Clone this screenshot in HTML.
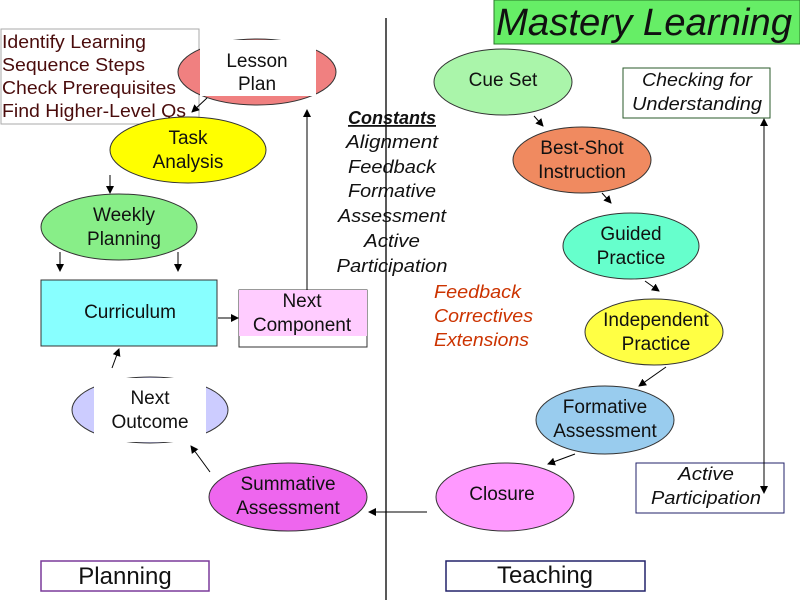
<!DOCTYPE html>
<html><head><meta charset="utf-8"><style>
html,body{margin:0;padding:0;background:#fff;}
svg{display:block;}
text{font-family:"Liberation Sans",Arial,sans-serif;}
</style></head><body>
<svg width="800" height="600" viewBox="0 0 800 600" xmlns="http://www.w3.org/2000/svg">
<defs>
<marker id="a" markerWidth="8" markerHeight="8" refX="7" refY="4" orient="auto" markerUnits="userSpaceOnUse"><path d="M0,0 L8,4 L0,8 z" fill="#000"/></marker>
</defs>
<rect width="800" height="600" fill="#fff"/>
<rect x="494" y="0" width="306" height="44" fill="#66ee66" stroke="#2a7a2a"/>
<text x="496" y="35" font-size="38" font-style="italic" fill="#111" textLength="296" lengthAdjust="spacingAndGlyphs">Mastery Learning</text>
<line x1="386" y1="18" x2="386" y2="600" stroke="#222" stroke-width="1.5"/>
<rect x="1" y="29" width="198" height="95" fill="#fff" stroke="#aaa"/>
<g font-size="18" fill="#4a0c0c">
<text x="2" y="48" textLength="144" lengthAdjust="spacingAndGlyphs">Identify Learning</text>
<text x="2" y="71" textLength="143" lengthAdjust="spacingAndGlyphs">Sequence Steps</text>
<text x="2" y="94" textLength="174" lengthAdjust="spacingAndGlyphs">Check Prerequisites</text>
<text x="2" y="117" textLength="184" lengthAdjust="spacingAndGlyphs">Find Higher-Level Qs</text>
</g>
<ellipse cx="257" cy="72" rx="79" ry="33" fill="#f08080" stroke="#333"/>
<rect x="200" y="40" width="116" height="56" fill="#fff"/>
<g font-size="19" text-anchor="middle" fill="#111"><text x="257" y="67">Lesson</text><text x="257" y="90">Plan</text></g>
<line x1="207" y1="98" x2="192" y2="112" stroke="#000" marker-end="url(#a)"/>
<ellipse cx="188" cy="150" rx="78" ry="33" fill="#ffff00" stroke="#333"/>
<g font-size="19" text-anchor="middle" fill="#111"><text x="188" y="144">Task</text><text x="188" y="168">Analysis</text></g>
<line x1="110" y1="175" x2="110" y2="193" stroke="#000" marker-end="url(#a)"/>
<ellipse cx="119" cy="227" rx="78" ry="33" fill="#88ee88" stroke="#333"/>
<g font-size="19" text-anchor="middle" fill="#111"><text x="124" y="221">Weekly</text><text x="124" y="245">Planning</text></g>
<line x1="60" y1="252" x2="60" y2="271" stroke="#000" marker-end="url(#a)"/>
<line x1="178" y1="252" x2="178" y2="271" stroke="#000" marker-end="url(#a)"/>
<rect x="41" y="280" width="176" height="66" fill="#88ffff" stroke="#333"/>
<text x="130" y="318" font-size="19" text-anchor="middle" fill="#111">Curriculum</text>
<line x1="218" y1="318" x2="238" y2="318" stroke="#000" marker-end="url(#a)"/>
<rect x="239" y="290" width="128" height="57" fill="#fff" stroke="#333"/>
<rect x="239" y="290" width="128" height="46" fill="#ffccff"/>
<g font-size="19" text-anchor="middle" fill="#111"><text x="302" y="307">Next</text><text x="302" y="331">Component</text></g>
<line x1="307" y1="290" x2="307" y2="110" stroke="#000" marker-end="url(#a)"/>
<ellipse cx="150" cy="410" rx="78" ry="33" fill="#ccccff" stroke="#333"/>
<rect x="94" y="378" width="112" height="64" fill="#fff"/>
<g font-size="19" text-anchor="middle" fill="#111"><text x="150" y="404">Next</text><text x="150" y="428">Outcome</text></g>
<line x1="112" y1="368" x2="119" y2="349" stroke="#000" marker-end="url(#a)"/>
<ellipse cx="288" cy="497" rx="79" ry="34" fill="#ee66ee" stroke="#333"/>
<g font-size="19" text-anchor="middle" fill="#111"><text x="288" y="490">Summative</text><text x="288" y="514">Assessment</text></g>
<line x1="210" y1="472" x2="191" y2="446" stroke="#000" marker-end="url(#a)"/>
<line x1="427" y1="512" x2="369" y2="512" stroke="#000" marker-end="url(#a)"/>
<g font-size="18" font-style="italic" text-anchor="middle" fill="#111">
<text x="392" y="124" font-weight="bold" text-decoration="underline">Constants</text>
<text x="392" y="148" textLength="92" lengthAdjust="spacingAndGlyphs">Alignment</text>
<text x="392" y="173" textLength="88" lengthAdjust="spacingAndGlyphs">Feedback</text>
<text x="392" y="197" textLength="88" lengthAdjust="spacingAndGlyphs">Formative</text>
<text x="392" y="222" textLength="108" lengthAdjust="spacingAndGlyphs">Assessment</text>
<text x="392" y="247" textLength="56" lengthAdjust="spacingAndGlyphs">Active</text>
<text x="392" y="272" textLength="111" lengthAdjust="spacingAndGlyphs">Participation</text>
</g>
<g font-size="18" font-style="italic" fill="#cc3300">
<text x="434" y="298" textLength="87" lengthAdjust="spacingAndGlyphs">Feedback</text>
<text x="434" y="322" textLength="99" lengthAdjust="spacingAndGlyphs">Correctives</text>
<text x="434" y="346" textLength="95" lengthAdjust="spacingAndGlyphs">Extensions</text>
</g>
<ellipse cx="503" cy="82" rx="69" ry="33" fill="#aaf5aa" stroke="#333"/>
<text x="503" y="86" font-size="19" text-anchor="middle" fill="#111">Cue Set</text>
<line x1="534" y1="116" x2="543" y2="126" stroke="#000" marker-end="url(#a)"/>
<ellipse cx="582" cy="160" rx="69" ry="33" fill="#f08a60" stroke="#333"/>
<g font-size="19" text-anchor="middle" fill="#111"><text x="582" y="154">Best-Shot</text><text x="582" y="178">Instruction</text></g>
<line x1="602" y1="193" x2="611" y2="203" stroke="#000" marker-end="url(#a)"/>
<ellipse cx="631" cy="246" rx="68" ry="33" fill="#66ffcc" stroke="#333"/>
<g font-size="19" text-anchor="middle" fill="#111"><text x="631" y="240">Guided</text><text x="631" y="264">Practice</text></g>
<line x1="645" y1="281" x2="659" y2="291" stroke="#000" marker-end="url(#a)"/>
<ellipse cx="654" cy="332" rx="69" ry="33" fill="#ffff44" stroke="#333"/>
<g font-size="19" text-anchor="middle" fill="#111"><text x="656" y="326">Independent</text><text x="656" y="350">Practice</text></g>
<line x1="666" y1="367" x2="639" y2="386" stroke="#000" marker-end="url(#a)"/>
<ellipse cx="605" cy="420" rx="69" ry="34" fill="#99ccee" stroke="#333"/>
<g font-size="19" text-anchor="middle" fill="#111"><text x="605" y="413">Formative</text><text x="605" y="437">Assessment</text></g>
<line x1="575" y1="454" x2="548" y2="464" stroke="#000" marker-end="url(#a)"/>
<ellipse cx="505" cy="497" rx="69" ry="34" fill="#ff99ff" stroke="#333"/>
<text x="502" y="500" font-size="19" text-anchor="middle" fill="#111">Closure</text>
<rect x="623" y="68" width="147" height="50" fill="#fff" stroke="#2a5a2a"/>
<g font-size="18" font-style="italic" text-anchor="middle" fill="#111"><text x="697" y="86" textLength="110" lengthAdjust="spacingAndGlyphs">Checking for</text><text x="697" y="110" textLength="130" lengthAdjust="spacingAndGlyphs">Understanding</text></g>
<rect x="636" y="463" width="148" height="50" fill="#fff" stroke="#22226a"/>
<g font-size="18" font-style="italic" text-anchor="middle" fill="#111"><text x="706" y="480" textLength="56" lengthAdjust="spacingAndGlyphs">Active</text><text x="706" y="504" textLength="110" lengthAdjust="spacingAndGlyphs">Participation</text></g>
<line x1="764" y1="300" x2="764" y2="119" stroke="#000" marker-end="url(#a)"/>
<line x1="764" y1="290" x2="764" y2="493" stroke="#000" marker-end="url(#a)"/>
<rect x="41" y="561" width="168" height="30" fill="#fff" stroke="#7a3a9a" stroke-width="1.5"/>
<text x="125" y="584" font-size="24" text-anchor="middle" fill="#111">Planning</text>
<rect x="446" y="561" width="199" height="30" fill="#fff" stroke="#22226a" stroke-width="1.5"/>
<text x="545" y="583" font-size="24" text-anchor="middle" fill="#111">Teaching</text>
</svg>
</body></html>
